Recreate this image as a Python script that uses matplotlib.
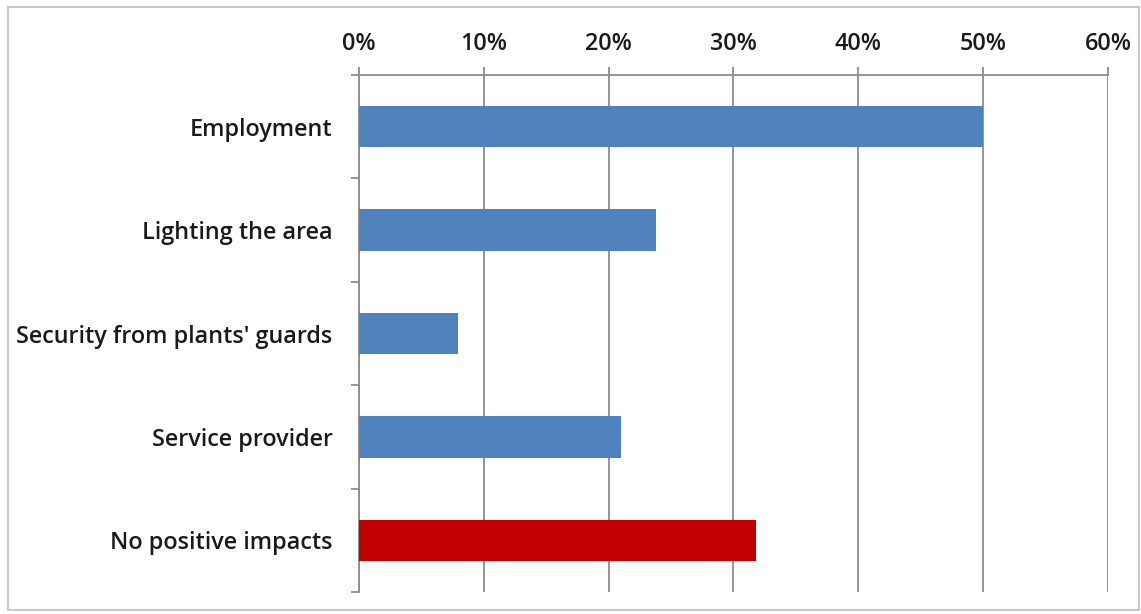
import matplotlib.pyplot as plt
from matplotlib.patches import Rectangle
from matplotlib.ticker import FuncFormatter

categories = ["Employment", "Lighting the area", "Security from plants' guards",
              "Service provider", "No positive impacts"]
shares = [50.0, 23.8, 7.9, 21.0, 31.8]
bar_colors = ["#4F81BD", "#4F81BD", "#4F81BD", "#4F81BD", "#C00000"]
x_ticks = [0, 10, 20, 30, 40, 50, 60]

plt.rcParams['font.family'] = ['Open Sans', 'DejaVu Sans']

fig = plt.figure(figsize=(11.41, 6.14), dpi=100)
fig.patches.append(Rectangle((0.007, 0.006), 0.991, 0.983, transform=fig.transFigure,
                             fill=False, edgecolor="#c8c8c8", linewidth=1.5))

ax = fig.add_axes([0.3146, 0.0358, 0.6564, 0.842])
pos = list(range(len(categories)))
ax.barh(pos, shares, height=0.40, color=bar_colors, zorder=3)

ax.set_xlim(0, 60)
ax.set_ylim(len(categories) - 0.5, -0.5)
ax.set_xticks(x_ticks)
ax.xaxis.set_major_formatter(FuncFormatter(lambda v, p: f"{v:.0f}%"))
ax.xaxis.tick_top()
ax.grid(axis="x", color="#8c8c8c", linewidth=1.3, zorder=1)

# category ticks sit on the band boundaries, labels in the middle
ax.set_yticks([i - 0.5 for i in range(len(categories) + 1)])
ax.set_yticklabels([])
ax.set_yticks(pos, minor=True)
ax.set_yticklabels(categories, minor=True)
ax.tick_params(axis="y", which="minor", length=0, pad=19, labelsize=16.8)
ax.tick_params(axis="y", which="major", length=6, color="#8c8c8c", width=1.3)
ax.tick_params(axis="x", length=6, color="#8c8c8c", width=1.3, pad=8, labelsize=16.8)
for lab in ax.get_xticklabels() + ax.get_yticklabels(minor=True):
    lab.set_fontweight("semibold")
    lab.set_color("#1a1a1a")

for side in ("right", "bottom"):
    ax.spines[side].set_visible(False)
for side in ("top", "left"):
    ax.spines[side].set_color("#8c8c8c")
    ax.spines[side].set_linewidth(1.3)

fig.savefig("out.png", dpi=100)
